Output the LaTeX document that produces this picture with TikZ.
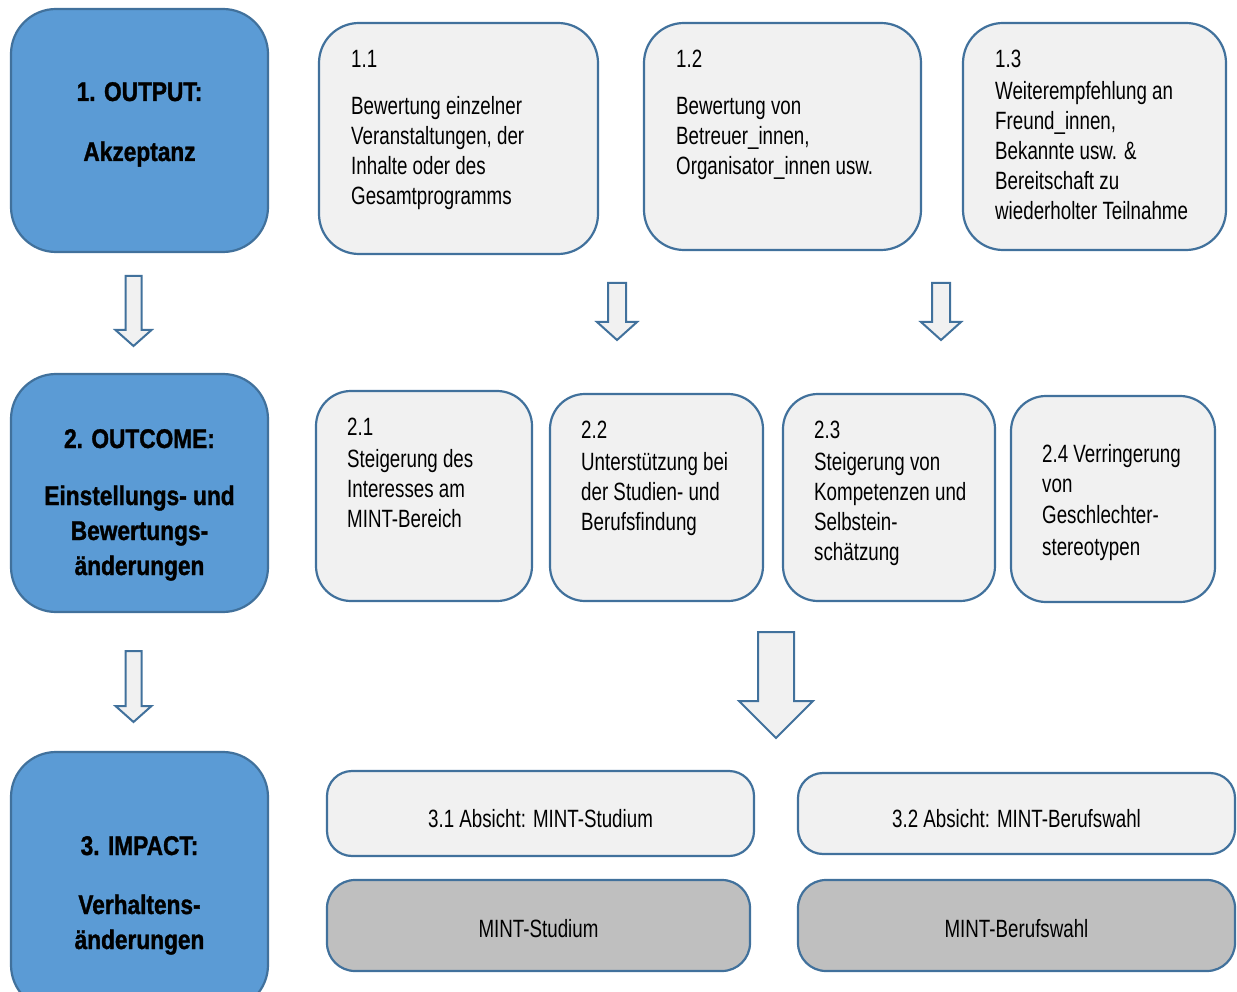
\documentclass[tikz,border=0pt]{standalone}
\usepackage{fontspec}
\setmainfont{Liberation Sans}
\newfontfamily\cf[FakeStretch=0.75]{Liberation Sans}
\newfontfamily\cfb[FakeStretch=0.84,BoldFeatures={FakeBold=1.2}]{Liberation Sans}
\definecolor{bfill}{HTML}{5B9BD5}
\definecolor{bord}{HTML}{41719C}
\definecolor{lfill}{HTML}{F1F1F1}
\definecolor{gfill}{HTML}{BFBFBF}
\tikzset{
  basebox/.style={draw=bord, line width=2.2pt, inner sep=0pt},
  bluebox/.style={basebox, fill=bfill, rounded corners=45pt, minimum width=257pt},
  lbox/.style={basebox, fill=lfill},
  gbox/.style={basebox, fill=gfill},
  txt/.style={anchor=base west, inner sep=0pt, font=\cf\fontsize{25}{30}\selectfont},
  ctxt/.style={anchor=base, inner sep=0pt, font=\cf\fontsize{25}{30}\selectfont},
  btxt/.style={anchor=base, inner sep=0pt, font=\cfb\bfseries\fontsize{27}{35}\selectfont},
  arr/.style={draw=bord, line width=2pt, fill=lfill, line join=miter},
}
\newcommand\blockarrow[6]{%
  \draw[arr] ({#1-#5},#2) -- ({#1+#5},#2) -- ({#1+#5},#3) -- ({#1+#6},#3)
    -- (#1,#4) -- ({#1-#6},#3) -- ({#1-#5},#3) -- cycle;}
\begin{document}
\begin{tikzpicture}[x=1pt,y=-1pt]
\useasboundingbox (0,0) rectangle (1237,992);
\clip (0,0) rectangle (1237,992);

% left blue boxes
\node[bluebox, minimum height=243pt] (b1) at (139.5,130.5) {};
\node[bluebox, minimum height=238pt] (b2) at (139.5,493) {};
\node[bluebox, minimum height=258pt] (b3) at (139.5,881) {};
\node[btxt] (b1t) at (139.5,101) {\parbox[t]{250pt}{\centering 1. OUTPUT:\\[25pt]Akzeptanz}};
\node[btxt] (b2t) at (139.5,448) {\parbox[t]{250pt}{\centering 2. OUTCOME:\\[22pt]Einstellungs- und\\Bewertungs-\\änderungen}};
\node[btxt] (b3t) at (139.5,855) {\parbox[t]{250pt}{\centering 3. IMPACT:\\[24pt]Verhaltens-\\änderungen}};

% row 1
\node[lbox, rounded corners=40pt, minimum width=279pt, minimum height=231pt] (t11) at (458.5,138.5) {};
\node[lbox, rounded corners=40pt, minimum width=277pt, minimum height=227pt] (t12) at (782.5,136.5) {};
\node[lbox, rounded corners=40pt, minimum width=263pt, minimum height=227pt] (t13) at (1094.5,136.5) {};
\node[txt] (t11t) at (351,68) {\parbox[t]{240pt}{\raggedright 1.1\\[17pt]Bewertung einzelner\\Veranstaltungen, der\\Inhalte oder des\\Gesamtprogramms}};
\node[txt] (t12t) at (676,68) {\parbox[t]{240pt}{\raggedright 1.2\\[17pt]Bewertung von\\Betreuer\_innen,\\Organisator\_innen usw.}};
\node[txt] (t13t) at (995,68) {\parbox[t]{240pt}{\raggedright 1.3\\[2pt]Weiterempfehlung an\\Freund\_innen,\\Bekannte usw. \&\\Bereitschaft zu\\wiederholter Teilnahme}};

% row 2
\node[lbox, rounded corners=35pt, minimum width=216pt, minimum height=210pt] (m21) at (424,496) {};
\node[lbox, rounded corners=35pt, minimum width=213pt, minimum height=207pt] (m22) at (656.5,497.5) {};
\node[lbox, rounded corners=35pt, minimum width=212pt, minimum height=207pt] (m23) at (889,497.5) {};
\node[lbox, rounded corners=35pt, minimum width=204pt, minimum height=206pt] (m24) at (1113,499) {};
\node[txt] (m21t) at (347,435) {\parbox[t]{190pt}{\raggedright 2.1\\[2pt]Steigerung des\\Interesses am\\MINT-Bereich}};
\node[txt] (m22t) at (581,438) {\parbox[t]{190pt}{\raggedright 2.2\\[2pt]Unterstützung bei\\der Studien- und\\Berufsfindung}};
\node[txt] (m23t) at (814,438) {\parbox[t]{190pt}{\raggedright 2.3\\[2pt]Steigerung von\\Kompetenzen und\\Selbstein-\\schätzung}};
\node[txt] (m24t) at (1042,462) {\parbox[t]{170pt}{\raggedright 2.4 Verringerung\\von\\[1pt]Geschlechter-\\[2pt]stereotypen}};

% row 3
\node[lbox, rounded corners=25pt, minimum width=427pt, minimum height=85pt] (i31) at (540.5,813.5) {};
\node[lbox, rounded corners=25pt, minimum width=437pt, minimum height=81pt] (i32) at (1016.5,813.5) {};
\node[gbox, rounded corners=28pt, minimum width=423pt, minimum height=91pt] (s31) at (538.5,925.5) {};
\node[gbox, rounded corners=28pt, minimum width=437pt, minimum height=91pt] (s32) at (1016.5,925.5) {};
\node[ctxt] (i31t) at (540.5,827) {3.1 Absicht: MINT-Studium};
\node[ctxt] (i32t) at (1016.5,827) {3.2 Absicht: MINT-Berufswahl};
\node[ctxt] (s31t) at (538.5,937) {MINT-Studium};
\node[ctxt] (s32t) at (1016.5,937) {MINT-Berufswahl};

% block arrows
\blockarrow{133.5}{276}{330}{346}{8}{18}
\blockarrow{617}{283}{322}{340}{9}{20}
\blockarrow{941}{283}{322}{340}{9}{20}
\blockarrow{133.5}{651}{706}{722}{8}{18}
\blockarrow{776}{632}{701}{738}{18}{37}
\end{tikzpicture}
\end{document}
